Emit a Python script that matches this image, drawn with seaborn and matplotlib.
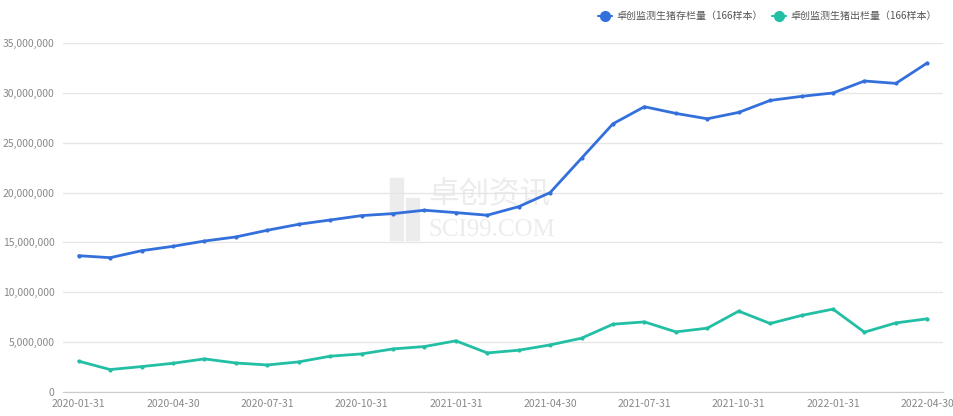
import numpy as np
import pandas as pd
import matplotlib.pyplot as plt
import matplotlib.patches as mpatches
from matplotlib.lines import Line2D
from matplotlib.ticker import FuncFormatter, FixedLocator
import seaborn as sns

dates = ['2020-01-31', '2020-02-29', '2020-03-31', '2020-04-30', '2020-05-31', '2020-06-30',
         '2020-07-31', '2020-08-31', '2020-09-30', '2020-10-31', '2020-11-30', '2020-12-31',
         '2021-01-31', '2021-02-28', '2021-03-31', '2021-04-30', '2021-05-31', '2021-06-30',
         '2021-07-31', '2021-08-31', '2021-09-30', '2021-10-31', '2021-11-30', '2021-12-31',
         '2022-01-31', '2022-02-28', '2022-03-31', '2022-04-30']

stock = [13.67, 13.47, 14.17, 14.61, 15.14, 15.55, 16.22, 16.82, 17.25, 17.69, 17.89, 18.23,
         17.99, 17.73, 18.59, 20.00, 23.45, 26.90, 28.61, 27.94, 27.40, 28.04, 29.24, 29.65,
         29.99, 31.19, 30.95, 33.00]
sales = [3.09, 2.25, 2.55, 2.88, 3.32, 2.91, 2.71, 3.02, 3.59, 3.82, 4.32, 4.56,
         5.13, 3.92, 4.19, 4.72, 5.40, 6.80, 7.03, 6.03, 6.40, 8.11, 6.87, 7.68,
         8.31, 6.00, 6.93, 7.34]

series_names = ['卓创监测生猪存栏量（166样本）', '卓创监测生猪出栏量（166样本）']
colors = ['#3470db', '#22bfa5']

df = pd.DataFrame({
    'pos': list(range(len(dates))) * 2,
    'value': [v * 1e6 for v in stock + sales],
    'series': [series_names[0]] * len(dates) + [series_names[1]] * len(dates),
})

sns.set_style('white')
plt.rcParams['font.family'] = ['Noto Sans CJK SC', 'DejaVu Sans']

fig = plt.figure(figsize=(9.54, 4.16), dpi=100)
ax = fig.add_axes([63 / 954, 24 / 416, 880 / 954, 349 / 416])

# watermark, behind the lines
wm = '#ececec'
ax.add_patch(mpatches.Rectangle((390 / 954, 1 - 240 / 416), 13 / 954, 62 / 416,
                                transform=fig.transFigure, color=wm, zorder=0.5, clip_on=False))
ax.add_patch(mpatches.Rectangle((406 / 954, 1 - 240 / 416), 13 / 954, 42 / 416,
                                transform=fig.transFigure, color=wm, zorder=0.5, clip_on=False))
ax.text(428 / 954, 1 - 195 / 416, '卓创资讯', fontsize=22, color=wm, transform=fig.transFigure,
        va='center', ha='left', zorder=0.5)
ax.text(428 / 954, 1 - 230 / 416, 'SCI99.COM', fontsize=18, color=wm, transform=fig.transFigure,
        family='Liberation Serif', va='center', ha='left', zorder=0.5)

sns.lineplot(data=df, x='pos', y='value', hue='series', palette=colors, ax=ax,
             linewidth=2, marker='o', markersize=3, markeredgewidth=0, legend=False, zorder=3)

ax.set_xlim(-0.5, len(dates) - 0.5)
ax.set_ylim(0, 35e6)
ax.set_yticks(np.arange(0, 35e6 + 1, 5e6))
ax.yaxis.set_major_formatter(FuncFormatter(lambda v, p: f'{int(v):,}'))
ax.set_xticks(range(0, len(dates), 3))
ax.set_xticklabels(dates[::3])
ax.xaxis.set_minor_locator(FixedLocator(np.arange(1.5, len(dates) - 1, 3)))
ax.set_xlabel('')
ax.set_ylabel('')

ax.grid(axis='y', color='#e6e6e6', linewidth=1)
ax.set_axisbelow(True)
for s in ['top', 'right', 'left']:
    ax.spines[s].set_visible(False)
ax.spines['bottom'].set_color('#cccccc')
ax.tick_params(axis='x', which='major', length=0, pad=5, labelsize=7.5, labelcolor='#888888')
ax.tick_params(axis='x', which='minor', length=4, color='#cccccc')
ax.tick_params(axis='y', length=0, pad=6, labelsize=7.5, labelcolor='#888888')

handles = [Line2D([0], [0], color=c, linewidth=1.5, marker='o', markersize=7) for c in colors]
fig.legend(handles, series_names, loc='upper right', bbox_to_anchor=(946 / 954, 0.995),
           ncol=2, frameon=False, fontsize=7.2, labelcolor='#555555',
           handlelength=1.4, handletextpad=0.4, columnspacing=1.0)

fig.savefig('out.png', dpi=100)
